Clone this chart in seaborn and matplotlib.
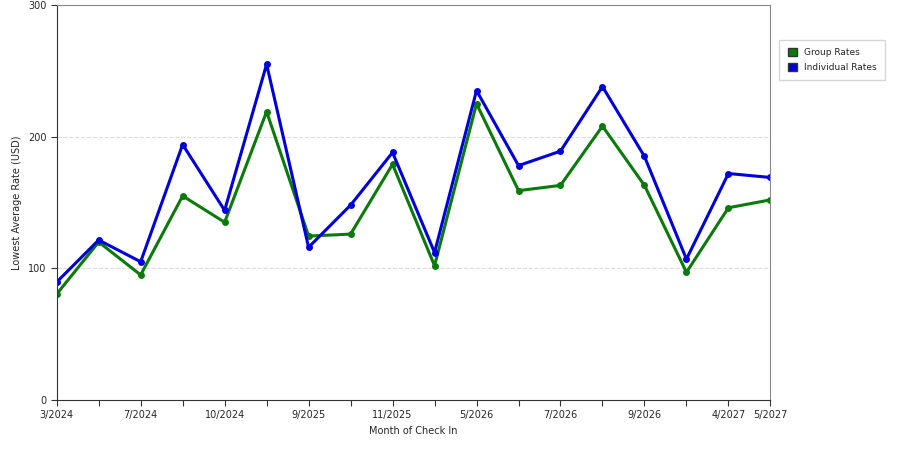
import matplotlib
matplotlib.use('Agg')
import matplotlib.pyplot as plt
import seaborn as sns
import pandas as pd

# months (one per point), only some get tick labels
months = ['3/2024', '5/2024', '7/2024', '8/2024', '10/2024', '11/2024', '9/2025', '10/2025',
          '11/2025', '12/2025', '5/2026', '6/2026', '7/2026', '8/2026', '9/2026', '10/2026',
          '4/2027', '5/2027']
tick_labels = ['3/2024', '', '7/2024', '', '10/2024', '', '9/2025', '', '11/2025', '',
               '5/2026', '', '7/2026', '', '9/2026', '', '4/2027', '5/2027']
group_rates = [80.5, 120, 95, 155, 135, 219, 124.5, 126, 179, 102, 225, 159, 163, 208, 163, 97, 146, 152]
individual_rates = [89.6, 121.5, 105, 194, 144, 255, 116, 148, 188, 112, 235, 178, 189, 238, 185, 107, 172, 169]

df = pd.DataFrame({
    'idx': list(range(len(months))) * 2,
    'rate': group_rates + individual_rates,
    'series': ['Group Rates'] * len(months) + ['Individual Rates'] * len(months),
})

sns.set_style('white')
plt.rcParams['font.family'] = ['DejaVu Sans']

fig = plt.figure(figsize=(9, 4.5), dpi=100)
ax = fig.add_axes([0.063, 0.111, 0.793, 0.878])

palette = {'Group Rates': '#0a7a0a', 'Individual Rates': '#0000dd'}
sns.lineplot(data=df, x='idx', y='rate', hue='series', palette=palette, ax=ax,
             linewidth=2.2, marker='o', markersize=5, markeredgewidth=0, legend=False)

ax.set_xlim(0, len(months) - 1)
ax.set_ylim(0, 300)
ax.set_xticks(range(len(months)))
ax.set_xticklabels(tick_labels, fontsize=7)
ax.set_yticks([0, 100, 200, 300])
ax.tick_params(axis='y', labelsize=7)
ax.tick_params(length=4, color='#333333', direction='out', bottom=True, left=True)
for y in [100, 200]:
    ax.axhline(y, color='#dddddd', linestyle='--', linewidth=0.8, zorder=0)
for s in ax.spines.values():
    s.set_color('#888888')
ax.spines['left'].set_color('#333333')
ax.spines['bottom'].set_color('#333333')
ax.set_xlabel('Month of Check In', fontsize=7)
ax.set_ylabel('Lowest Average Rate (USD)', fontsize=7)

handles = [plt.Rectangle((0, 0), 1, 1, facecolor=palette[k], edgecolor='#333333')
           for k in palette]
fig.legend(handles, list(palette), loc='upper left', bbox_to_anchor=(0.866, 0.912),
           fontsize=6.5, frameon=True, edgecolor='#cccccc', fancybox=False,
           handlelength=1.0, handleheight=1.0, handletextpad=0.8,
           borderpad=0.9, labelspacing=0.7, borderaxespad=0)

fig.savefig('out.png', dpi=100)
